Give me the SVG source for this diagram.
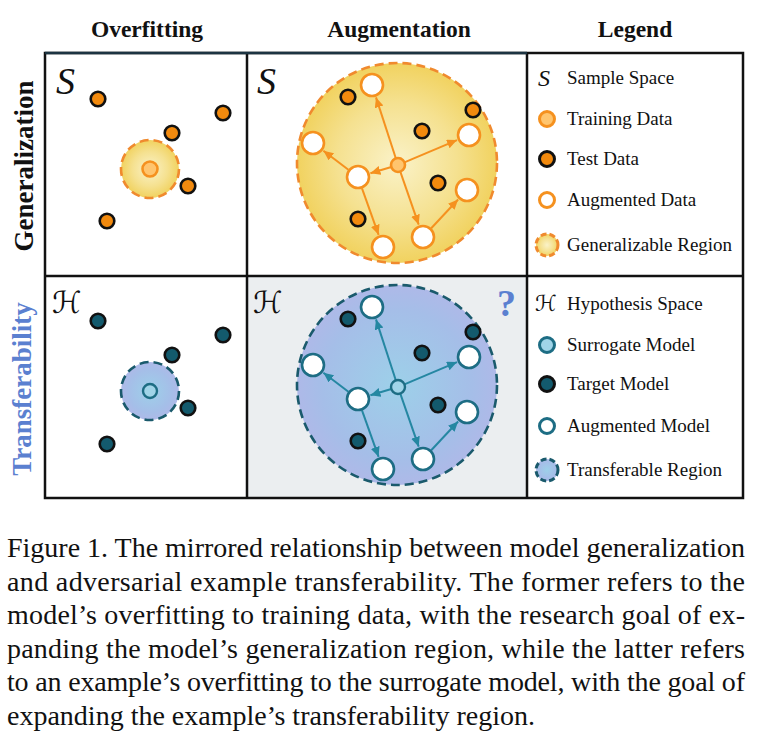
<svg xmlns="http://www.w3.org/2000/svg" width="765" height="752" viewBox="0 0 765 752">
<style>
text{font-family:"Liberation Serif","Times New Roman",serif;fill:#111}
.hdr{font-size:23.5px;font-weight:bold;text-anchor:middle}
.side{font-size:27px;font-weight:bold;text-anchor:middle}
.leg{font-size:19px}
.cap{font-size:28px}
.sym{font-style:italic}
.cal{font-family:"DejaVu Sans","Noto Sans",serif}
.test{fill:#F28A0E;stroke:#111;stroke-width:2.6}
.train{fill:#FFC56E;stroke:#F5911F;stroke-width:2.6}
.augO{fill:#fff;stroke:#F5911F;stroke-width:2.6}
.tgt{fill:#135A6D;stroke:#111;stroke-width:2.6}
.sur{fill:#A0D4E8;stroke:#1D6D84;stroke-width:2.4}
.augT{fill:#fff;stroke:#1D6D84;stroke-width:2.6}
.regY{fill:url(#gY);stroke:#F08A2E;stroke-width:2.6;stroke-dasharray:9 5}
.regB{fill:url(#gB);stroke:#1A5A6C;stroke-width:2.6;stroke-dasharray:9 5}
.arO{stroke:#F5911F;stroke-width:2;fill:none;marker-end:url(#mO)}
.arT{stroke:#2587A2;stroke-width:2;fill:none;marker-end:url(#mT)}
.frame{fill:none;stroke:#111;stroke-width:2.5}
</style>
<defs>
<radialGradient id="gY" cx="50%" cy="50%" r="50%">
<stop offset="0%" stop-color="#FAF2C8"/>
<stop offset="60%" stop-color="#F5E190"/>
<stop offset="100%" stop-color="#F1D25F"/>
</radialGradient>
<radialGradient id="gB" cx="50%" cy="50%" r="50%">
<stop offset="0%" stop-color="#9DD0E9"/>
<stop offset="75%" stop-color="#A5BEE8"/>
<stop offset="100%" stop-color="#AEB9E8"/>
</radialGradient>
<marker id="mO" markerUnits="userSpaceOnUse" markerWidth="11" markerHeight="10" refX="10" refY="4.5" orient="auto">
<path d="M0,0 L10,4.5 L0,9 z" fill="#F5911F"/>
</marker>
<marker id="mT" markerUnits="userSpaceOnUse" markerWidth="11" markerHeight="10" refX="10" refY="4.5" orient="auto">
<path d="M0,0 L10,4.5 L0,9 z" fill="#2587A2"/>
</marker>
</defs>
<rect width="765" height="752" fill="#fff"/>

<!-- headers -->
<g id="headers">
<text class="hdr" x="147" y="37">Overfitting</text>
<text class="hdr" x="399" y="37">Augmentation</text>
<text class="hdr" x="635" y="37">Legend</text>
<text class="side" transform="translate(33,166) rotate(-90)">Generalization</text>
<text class="side" transform="translate(31,389) rotate(-90)" style="fill:#5B80D0">Transferability</text>
</g>

<!-- frames -->
<g id="grid">
<rect x="247" y="276" width="280" height="222" fill="#EBEEF0"/>
<rect class="frame" x="45" y="53" width="698" height="445"/>
<line class="frame" x1="45" y1="276" x2="743" y2="276"/>
<line class="frame" x1="247" y1="53" x2="247" y2="498"/>
<line class="frame" x1="527" y1="53" x2="527" y2="498"/>
<line x1="45" y1="53" x2="527" y2="53" stroke="#1C3442" stroke-width="2.5"/>
</g>

<!-- top-left: overfitting / generalization -->
<g id="tl-space"><text class="sym" x="56" y="94" style="font-size:38px">S</text></g>
<g id="tl-region"><circle class="regY" cx="150" cy="169" r="29"/></g>
<g id="tl-train"><circle class="train" cx="150" cy="169" r="7.5"/></g>
<g id="tl-test">
<circle class="test" cx="98" cy="99" r="7.3"/>
<circle class="test" cx="223" cy="113" r="7.3"/>
<circle class="test" cx="172" cy="133" r="7.3"/>
<circle class="test" cx="188" cy="186" r="7.3"/>
<circle class="test" cx="107" cy="221" r="7.3"/>
</g>

<!-- top-middle: augmentation / generalization -->
<g id="tm-space"><text class="sym" x="257" y="94" style="font-size:38px">S</text></g>
<g id="tm-region"><circle class="regY" cx="397" cy="163" r="100"/></g>
<g id="tm-test">
<circle class="test" cx="348" cy="97" r="7.3"/>
<circle class="test" cx="473" cy="110" r="7.3"/>
<circle class="test" cx="422" cy="131" r="7.3"/>
<circle class="test" cx="438" cy="183" r="7.3"/>
<circle class="test" cx="358" cy="219" r="7.3"/>
</g>
<g id="tm-connectors">
<line class="arO" x1="395.8" y1="158.3" x2="376" y2="97.4"/>
<line class="arO" x1="404.4" y1="162.3" x2="457" y2="140.1"/>
<line class="arO" x1="391.3" y1="167" x2="370.4" y2="173.3"/>
<line class="arO" x1="400.3" y1="171.6" x2="418.7" y2="224.7"/>
<line class="arO" x1="348.4" y1="169.8" x2="323.4" y2="150.8"/>
<line class="arO" x1="362" y1="188.3" x2="378.6" y2="234.8"/>
<line class="arO" x1="431.2" y1="228.2" x2="458.1" y2="199.5"/>
</g>
<g id="tm-train"><circle class="train" cx="398" cy="165" r="7"/></g>
<g id="tm-aug">
<circle class="augO" cx="372" cy="85" r="11"/>
<circle class="augO" cx="313" cy="143" r="11"/>
<circle class="augO" cx="358" cy="177" r="11"/>
<circle class="augO" cx="469" cy="135" r="11"/>
<circle class="augO" cx="467" cy="190" r="11"/>
<circle class="augO" cx="423" cy="237" r="11"/>
<circle class="augO" cx="383" cy="247" r="11"/>
</g>

<!-- legend top -->
<g id="leg-sample"><text class="sym" x="538" y="86" style="font-size:24px">S</text><text class="leg" x="567" y="84">Sample Space</text></g>
<g id="leg-train"><circle class="train" cx="547" cy="119" r="7.5" style="stroke-width:3"/><text class="leg" x="567" y="125">Training Data</text></g>
<g id="leg-test"><circle class="test" cx="547" cy="159" r="7.5" style="stroke-width:3"/><text class="leg" x="567" y="165">Test Data</text></g>
<g id="leg-aug"><circle class="augO" cx="547" cy="200" r="7.5" style="stroke-width:3"/><text class="leg" x="567" y="206">Augmented Data</text></g>
<g id="leg-gen"><circle class="regY" cx="547" cy="245" r="11" style="stroke-width:3;stroke-dasharray:6 3"/><text class="leg" x="567" y="251">Generalizable Region</text></g>

<!-- bottom-left: overfitting / transferability -->
<g id="bl-space"><text class="cal" x="52" y="313" style="font-size:30px">ℋ</text></g>
<g id="bl-region"><circle class="regB" cx="150" cy="391" r="29"/></g>
<g id="bl-surrogate"><circle class="sur" cx="150" cy="391" r="7"/></g>
<g id="bl-target">
<circle class="tgt" cx="98" cy="321" r="7.3"/>
<circle class="tgt" cx="223" cy="335" r="7.3"/>
<circle class="tgt" cx="172" cy="355" r="7.3"/>
<circle class="tgt" cx="188" cy="408" r="7.3"/>
<circle class="tgt" cx="107" cy="444" r="7.3"/>
</g>

<!-- bottom-middle: augmentation / transferability -->
<g id="bm-space"><text class="cal" x="253" y="313" style="font-size:30px">ℋ</text></g>
<g id="bm-question"><text x="497" y="316" style="font-size:38px;font-weight:bold;fill:#5B80D0">?</text></g>
<g id="bm-region"><circle class="regB" cx="397" cy="385" r="100"/></g>
<g id="bm-target">
<circle class="tgt" cx="348" cy="319" r="7.3"/>
<circle class="tgt" cx="473" cy="332" r="7.3"/>
<circle class="tgt" cx="422" cy="353" r="7.3"/>
<circle class="tgt" cx="438" cy="405" r="7.3"/>
<circle class="tgt" cx="358" cy="441" r="7.3"/>
</g>
<g id="bm-connectors">
<line class="arT" x1="395.8" y1="380.3" x2="376" y2="319.4"/>
<line class="arT" x1="404.4" y1="384.3" x2="457" y2="362.1"/>
<line class="arT" x1="391.3" y1="389" x2="370.4" y2="395.3"/>
<line class="arT" x1="400.3" y1="393.6" x2="418.7" y2="446.7"/>
<line class="arT" x1="348.4" y1="391.8" x2="323.4" y2="372.8"/>
<line class="arT" x1="362" y1="410.3" x2="378.6" y2="456.8"/>
<line class="arT" x1="431.2" y1="450.2" x2="458.1" y2="421.5"/>
</g>
<g id="bm-surrogate"><circle class="sur" cx="398" cy="387" r="7"/></g>
<g id="bm-aug">
<circle class="augT" cx="372" cy="307" r="11"/>
<circle class="augT" cx="313" cy="365" r="11"/>
<circle class="augT" cx="358" cy="399" r="11"/>
<circle class="augT" cx="469" cy="357" r="11"/>
<circle class="augT" cx="467" cy="412" r="11"/>
<circle class="augT" cx="423" cy="459" r="11"/>
<circle class="augT" cx="383" cy="469" r="11"/>
</g>

<!-- legend bottom -->
<g id="leg-hyp"><text class="cal" x="535" y="311" style="font-size:22px">ℋ</text><text class="leg" x="567" y="310">Hypothesis Space</text></g>
<g id="leg-sur"><circle class="sur" cx="547" cy="345" r="7.5" style="stroke-width:3"/><text class="leg" x="567" y="351">Surrogate Model</text></g>
<g id="leg-tgt"><circle class="tgt" cx="547" cy="384" r="7.5" style="stroke-width:3"/><text class="leg" x="567" y="390">Target Model</text></g>
<g id="leg-augm"><circle class="augT" cx="547" cy="426" r="7.5" style="stroke-width:3"/><text class="leg" x="567" y="432">Augmented Model</text></g>
<g id="leg-trans"><circle class="regB" cx="547" cy="470" r="11" style="stroke-width:3;stroke-dasharray:6 3"/><text class="leg" x="567" y="476">Transferable Region</text></g>

<!-- caption -->
<g id="caption">
<text class="cap" x="7" y="557" textLength="738" lengthAdjust="spacing">Figure 1. The mirrored relationship between model generalization</text>
<text class="cap" x="7" y="590.5" textLength="738" lengthAdjust="spacing">and adversarial example transferability.  The former refers to the</text>
<text class="cap" x="7" y="624" textLength="738" lengthAdjust="spacing">model’s overfitting to training data, with the research goal of ex-</text>
<text class="cap" x="7" y="657.5" textLength="738" lengthAdjust="spacing">panding the model’s generalization region, while the latter refers</text>
<text class="cap" x="7" y="691" textLength="738" lengthAdjust="spacing">to an example’s overfitting to the surrogate model, with the goal of</text>
<text class="cap" x="7" y="724.5">expanding the example’s transferability region.</text>
</g>
</svg>
